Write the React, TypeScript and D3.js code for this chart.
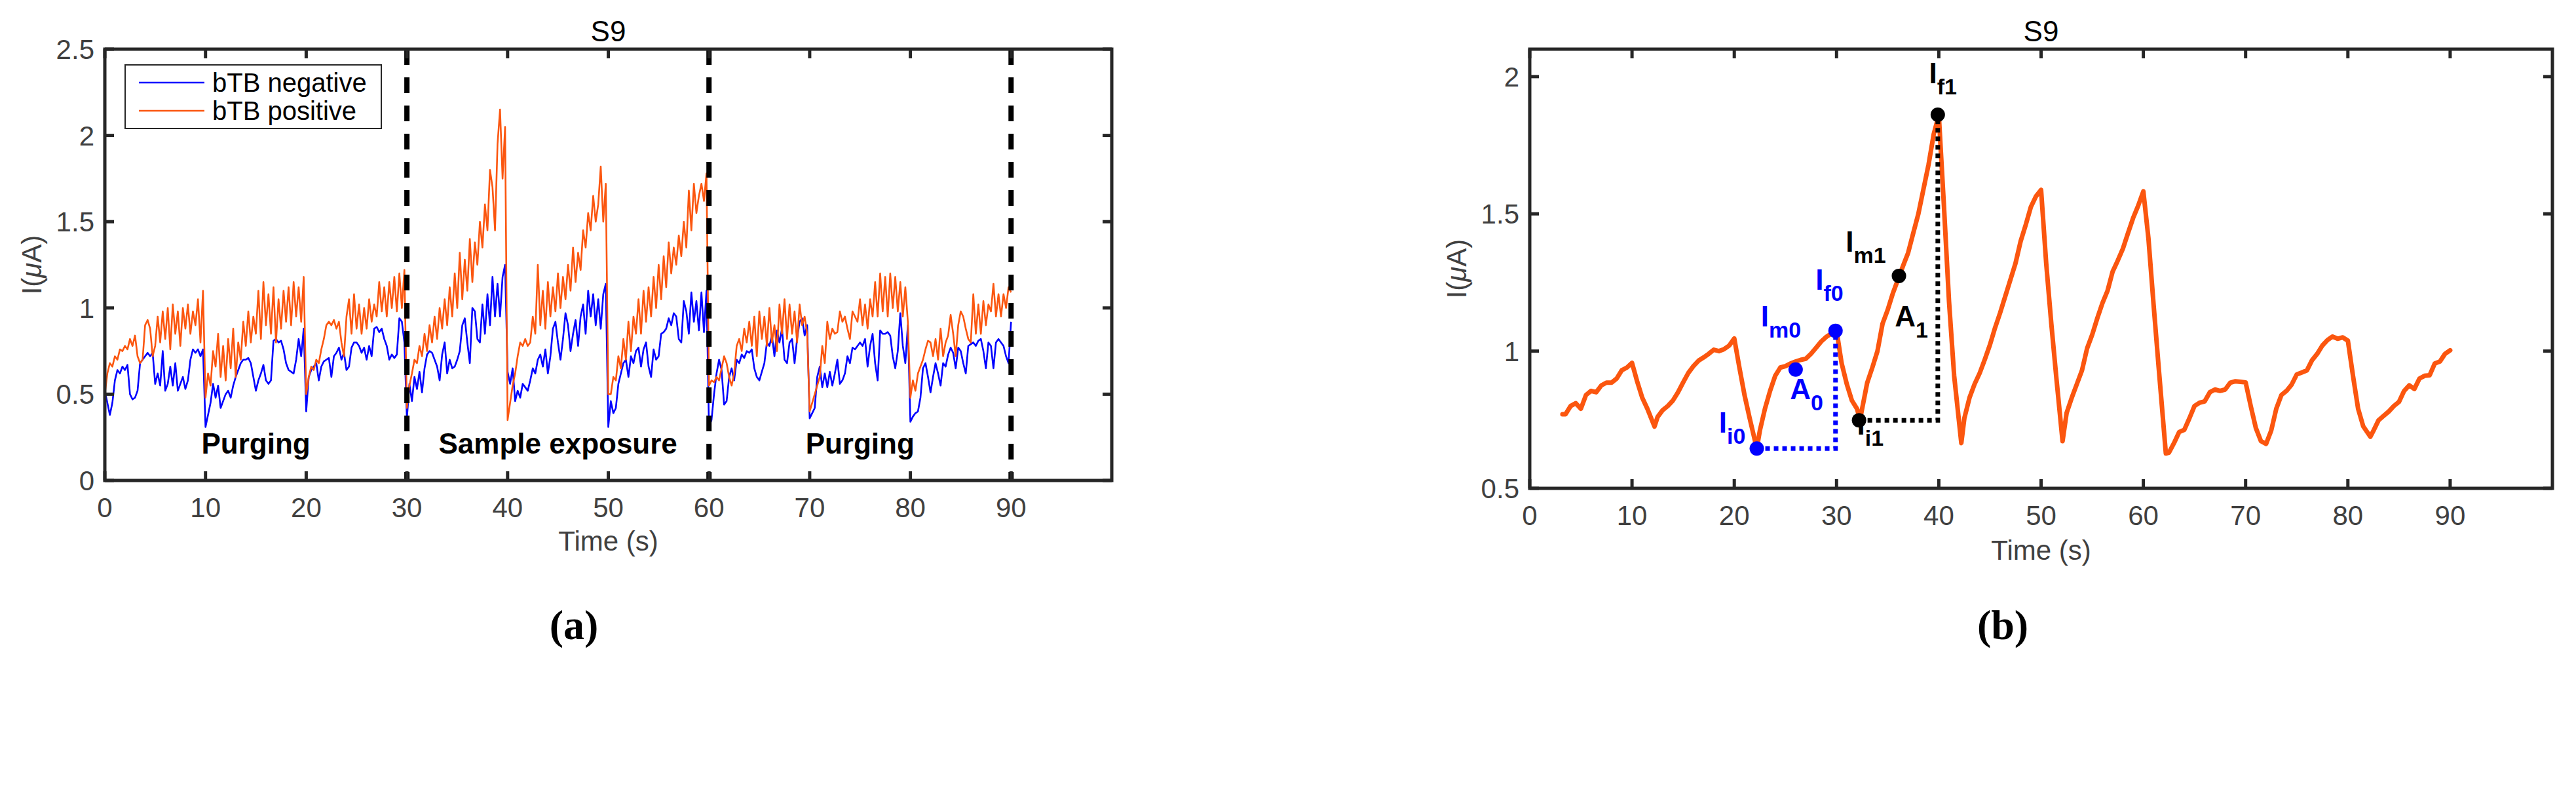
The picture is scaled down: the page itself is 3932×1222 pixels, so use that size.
import React from 'react';
import * as d3 from 'd3';

const WIDTH = 3932;
const HEIGHT = 1222;

// ---- (a) current vs time, sampled every 0.25 s from 0 to 90 s ----
const SAMPLE_STEP = 0.25;

const bTBNegative = [
  0.52, 0.45, 0.38, 0.45, 0.58, 0.64, 0.62, 0.66, 0.64, 0.67, 0.5, 0.47, 0.48, 0.52, 0.68, 0.7, 0.72, 0.74, 0.72, 0.74,
  0.56, 0.62, 0.55, 0.75, 0.52, 0.56, 0.66, 0.55, 0.68, 0.52, 0.56, 0.6, 0.53, 0.58, 0.7, 0.76, 0.74, 0.76, 0.72, 0.76,
  0.31, 0.38, 0.45, 0.56, 0.48, 0.55, 0.42, 0.46, 0.5, 0.52, 0.48, 0.55, 0.6, 0.64, 0.68, 0.7, 0.7, 0.71, 0.68, 0.6,
  0.52, 0.58, 0.62, 0.67, 0.58, 0.56, 0.58, 0.81, 0.82, 0.8, 0.81, 0.76, 0.68, 0.64, 0.63, 0.62, 0.7, 0.82, 0.72, 0.88,
  0.4, 0.6, 0.64, 0.66, 0.68, 0.58, 0.66, 0.69, 0.7, 0.71, 0.6, 0.72, 0.74, 0.77, 0.7, 0.74, 0.64, 0.66, 0.77, 0.8,
  0.8, 0.78, 0.74, 0.77, 0.7, 0.78, 0.72, 0.88, 0.89, 0.86, 0.88, 0.82, 0.78, 0.7, 0.73, 0.71, 0.73, 0.94, 0.92, 0.8,
  0.36, 0.56, 0.46, 0.6, 0.53, 0.63, 0.51, 0.65, 0.73, 0.75, 0.74, 0.7, 0.66, 0.58, 0.73, 0.8, 0.62, 0.7, 0.65, 0.66,
  0.7, 0.75, 0.9, 0.94, 0.8, 0.68, 1.0, 0.98, 0.82, 0.8, 1.02, 0.85, 1.08, 0.9, 1.18, 0.95, 1.14, 0.95, 1.18, 1.25,
  0.63, 0.56, 0.65, 0.46, 0.52, 0.48, 0.56, 0.54, 0.52, 0.58, 0.65, 0.62, 0.7, 0.73, 0.66, 0.76, 0.62, 0.72, 0.88, 0.92,
  0.8, 0.7, 0.82, 0.97, 0.9, 0.75, 0.85, 0.93, 0.78, 0.95, 1.02, 0.85, 1.1, 0.95, 1.08, 0.9, 1.05, 0.88, 1.08, 1.14,
  0.31, 0.46, 0.39, 0.42, 0.56, 0.62, 0.68, 0.7, 0.6, 0.72, 0.68, 0.75, 0.77, 0.66, 0.76, 0.8, 0.66, 0.6, 0.76, 0.7,
  0.72, 0.85, 0.86, 0.88, 0.94, 0.9, 0.97, 0.95, 0.82, 0.8, 1.04, 0.98, 0.85, 1.09, 0.92, 1.04, 0.87, 1.09, 0.86, 1.1,
  0.31, 0.35, 0.5, 0.62, 0.7, 0.64, 0.44, 0.46, 0.6, 0.65, 0.58, 0.7, 0.68, 0.73, 0.71, 0.75, 0.74, 0.76, 0.65, 0.6,
  0.58, 0.63, 0.68, 0.8, 0.78, 0.84, 0.72, 0.87, 0.8, 0.88, 0.7, 0.68, 0.8, 0.82, 0.68, 0.82, 0.92, 0.94, 0.84, 0.9,
  0.36, 0.39, 0.42, 0.6, 0.66, 0.54, 0.62, 0.54, 0.63, 0.55, 0.62, 0.7, 0.56, 0.58, 0.62, 0.72, 0.68, 0.77, 0.76, 0.78,
  0.8, 0.78, 0.82, 0.66, 0.78, 0.85, 0.68, 0.58, 0.87, 0.85, 0.85, 0.86, 0.84, 0.72, 0.65, 0.75, 0.97, 0.78, 0.68, 0.9,
  0.34, 0.37, 0.39, 0.4, 0.48, 0.65, 0.68, 0.6, 0.51, 0.6, 0.68, 0.62, 0.55, 0.68, 0.66, 0.73, 0.77, 0.74, 0.65, 0.77,
  0.75, 0.68, 0.62, 0.78, 0.79, 0.8, 0.78, 0.81, 0.82, 0.75, 0.65, 0.8, 0.78, 0.65, 0.8, 0.82, 0.8, 0.78, 0.72, 0.68,
  0.92,
];

const bTBPositive = [
  0.5, 0.62, 0.68, 0.66, 0.72, 0.7, 0.76, 0.75, 0.78, 0.76, 0.82, 0.78, 0.84, 0.72, 0.68, 0.7, 0.9, 0.93, 0.88, 0.72,
  0.78, 0.95, 0.8, 0.98, 0.82, 1.0, 0.76, 1.02, 0.85, 0.98, 0.78, 1.0, 0.88, 1.02, 0.85, 0.98, 0.9, 1.05, 0.8, 1.1,
  0.48, 0.62, 0.55, 0.75, 0.66, 0.85, 0.6, 0.78, 0.58, 0.82, 0.65, 0.88, 0.6, 0.8, 0.7, 0.92, 0.78, 0.98, 0.8, 0.95,
  0.85, 1.1, 0.82, 1.15, 0.9, 1.08, 0.85, 1.12, 0.8, 1.05, 0.88, 1.1, 0.92, 1.12, 0.9, 1.15, 0.95, 1.12, 0.92, 1.18,
  0.5, 0.6, 0.66, 0.64, 0.7, 0.68, 0.76, 0.82, 0.9, 0.92, 0.9, 0.93, 0.88, 0.92, 0.8, 0.72, 0.95, 1.05, 0.85, 1.08,
  0.88, 1.02, 0.85, 1.0, 0.88, 1.05, 0.92, 1.02, 0.95, 1.15, 0.98, 1.12, 0.95, 1.15, 1.0, 1.18, 0.98, 1.2, 1.0, 1.22,
  0.42, 0.55, 0.62, 0.7, 0.68, 0.78, 0.72, 0.85, 0.75, 0.9, 0.8, 0.95, 0.82, 1.0, 0.88, 1.05, 0.9, 1.12, 0.95, 1.2,
  1.0, 1.32, 1.05, 1.28, 1.1, 1.4, 1.15, 1.38, 1.25, 1.5, 1.35, 1.6, 1.45, 1.8, 1.7, 1.45, 1.95, 2.15, 1.75, 2.05,
  0.35, 0.45, 0.55, 0.62, 0.72, 0.8, 0.78, 0.82, 0.78, 0.8, 0.95, 0.85, 1.25, 0.9, 1.1, 0.88, 1.15, 0.95, 1.12, 0.98,
  1.2, 1.0, 1.18, 1.05, 1.25, 1.1, 1.35, 1.15, 1.32, 1.22, 1.45, 1.35, 1.55, 1.45, 1.65, 1.5, 1.6, 1.82, 1.5, 1.72,
  0.5, 0.5, 0.6, 0.58, 0.72, 0.65, 0.82, 0.7, 0.92, 0.75, 0.95, 0.85, 1.05, 0.85, 1.1, 0.92, 1.12, 0.95, 1.18, 1.0,
  1.25, 1.05, 1.3, 1.12, 1.38, 1.2, 1.35, 1.25, 1.42, 1.3, 1.5, 1.35, 1.68, 1.45, 1.72, 1.55, 1.65, 1.72, 1.62, 1.78,
  0.55, 0.58, 0.57, 0.6, 0.58, 0.65, 0.72, 0.68, 0.6, 0.55, 0.62, 0.78, 0.82, 0.75, 0.88, 0.8, 0.92, 0.78, 0.95, 0.72,
  0.98, 0.82, 0.95, 0.78, 1.0, 0.8, 0.9, 0.75, 1.02, 0.85, 1.05, 0.82, 1.02, 0.85, 0.98, 0.8, 1.02, 0.9, 0.95, 0.85,
  0.4, 0.45, 0.5, 0.55, 0.6, 0.78, 0.68, 0.92, 0.82, 0.88, 0.85, 0.86, 0.98, 0.92, 0.95, 0.88, 0.82, 0.98, 0.95, 0.92,
  1.05, 0.9, 1.02, 0.88, 1.05, 0.95, 1.15, 0.95, 1.2, 0.98, 1.18, 0.95, 1.2, 1.0, 1.18, 0.98, 1.15, 0.95, 1.12, 0.92,
  0.48, 0.58, 0.52, 0.62, 0.66, 0.7, 0.76, 0.81, 0.8, 0.72, 0.82, 0.7, 0.88, 0.72, 0.8, 0.84, 0.96, 0.85, 0.72, 0.9,
  0.98, 0.95, 0.88, 0.82, 0.8, 1.08, 0.85, 1.02, 0.85, 1.04, 0.9, 1.02, 0.98, 1.14, 0.95, 1.08, 0.95, 1.08, 1.0, 1.12,
  1.09,
];

const phaseEdges = [0, 30, 60, 90];
const phaseNames = ['Purging', 'Sample exposure', 'Purging'];

// ---- (b) S9 positive sample ----
const s9Time = [
  3.2, 3.5, 4, 4.5, 5, 5.5, 6, 6.5, 7, 7.5, 8, 8.5, 9, 9.5, 10, 10.5, 11, 11.5, 12.2, 12.5,
  13, 13.5, 14, 14.5, 15, 15.5, 16, 16.5, 17, 17.5, 18, 18.5, 19, 19.5, 20, 20.5, 21, 21.5, 22.2, 22.5,
  23, 23.5, 24, 24.5, 25, 25.5, 26, 26.5, 27, 27.5, 28, 28.5, 29, 29.5, 30, 30.5, 31, 31.5, 32, 32.3,
  32.5, 33, 33.5, 34, 34.5, 35, 35.5, 36, 36.5, 37, 37.5, 38, 38.5, 39, 39.5, 40, 40.5, 41, 41.5, 42.2,
  42.5, 43, 43.5, 44, 44.5, 45, 45.5, 46, 46.5, 47, 47.5, 48, 48.5, 49, 49.5, 50, 50.5, 51, 51.5, 52.1,
  52.5, 53, 53.5, 54, 54.5, 55, 55.5, 56, 56.5, 57, 57.5, 58, 58.5, 59, 59.5, 60, 60.5, 61, 61.5, 62.2,
  62.5, 63, 63.5, 64, 64.5, 65, 65.5, 66, 66.5, 67, 67.5, 68, 68.5, 69, 69.5, 70, 70.5, 71, 71.5, 72,
  72.5, 73, 73.5, 74, 74.5, 75, 75.5, 76, 76.5, 77, 77.5, 78, 78.5, 79, 79.5, 80, 80.5, 81, 81.5, 82.2,
  82.5, 83, 83.5, 84, 84.5, 85, 85.5, 86, 86.5, 87, 87.5, 88, 88.5, 89, 89.5, 90,
];
const s9Current = [
  0.77, 0.77, 0.8, 0.81, 0.79, 0.84, 0.855, 0.85, 0.875, 0.885, 0.885, 0.9, 0.93, 0.94, 0.957, 0.89, 0.83, 0.79, 0.725, 0.76,
  0.785, 0.8, 0.82, 0.85, 0.886, 0.92, 0.945, 0.965, 0.977, 0.99, 1.005, 1.0, 1.007, 1.02, 1.046, 0.94, 0.84, 0.756, 0.645, 0.71,
  0.79, 0.855, 0.91, 0.94, 0.945, 0.955, 0.962, 0.968, 0.972, 0.99, 1.012, 1.035, 1.052, 1.064, 1.075, 0.955, 0.88, 0.82, 0.79, 0.75,
  0.79, 0.885, 0.94, 1.0, 1.1, 1.15, 1.21, 1.26, 1.31, 1.358, 1.43, 1.5, 1.59, 1.68, 1.79, 1.86, 1.53, 1.18, 0.91, 0.665,
  0.756, 0.83, 0.88, 0.92, 0.97, 1.023, 1.085, 1.14, 1.2, 1.26, 1.32, 1.4, 1.46, 1.525, 1.564, 1.587, 1.32, 1.1, 0.9, 0.672,
  0.775, 0.83, 0.88, 0.93, 1.01, 1.06, 1.12, 1.175, 1.22, 1.29, 1.33, 1.373, 1.43, 1.485, 1.53, 1.582, 1.41, 1.17, 0.94, 0.627,
  0.63, 0.665, 0.705, 0.713, 0.755, 0.8, 0.812, 0.817, 0.85, 0.86, 0.855, 0.86, 0.885, 0.89, 0.888, 0.886, 0.8, 0.72, 0.672, 0.662,
  0.71, 0.79, 0.84, 0.855, 0.878, 0.915, 0.922, 0.93, 0.967, 0.99, 1.02, 1.04, 1.053, 1.045, 1.05, 1.038, 0.91, 0.79, 0.726, 0.688,
  0.71, 0.748, 0.764, 0.78, 0.8, 0.815, 0.855, 0.875, 0.862, 0.9, 0.91, 0.912, 0.955, 0.962, 0.99, 1.003,
];

// reference points on the S9 curve: [time, current]
const cycle0Points = [[22.2, 0.645], [26.0, 0.933], [29.9, 1.074]];
const cycle1Points = [[32.2, 0.748], [36.1, 1.274], [39.9, 1.861]];

const FONT = '"Liberation Sans", Arial, Helvetica, sans-serif';
const AXIS = '#262626';
const TICK_TEXT = '#404040';
const BLUE = '#0000FF';
const ORANGE = '#FB560F';
const TICK_LEN = 14;

// annotation text for (b): main letter, subscript, anchor in data units
const pointLabels = [
  { main: 'I', sub: 'i0', t: 18.5, v: 0.703, color: BLUE },
  { main: 'I', sub: 'm0', t: 22.6, v: 1.091, color: BLUE },
  { main: 'I', sub: 'f0', t: 27.95, v: 1.224, color: BLUE },
  { main: 'A', sub: '0', t: 25.45, v: 0.825, color: BLUE },
  { main: 'I', sub: 'm1', t: 30.9, v: 1.361, color: '#000' },
  { main: 'A', sub: '1', t: 35.7, v: 1.091, color: '#000' },
  { main: 'I', sub: 'i1', t: 32.0, v: 0.695, color: '#000' },
  { main: 'I', sub: 'f1', t: 39.05, v: 1.976, color: '#000' },
];

type Lin = d3.ScaleLinear<number, number>;

function Frame({ x, y, xTicks, yTicks }: { x: Lin; y: Lin; xTicks: number[]; yTicks: number[] }) {
  const [x0, x1] = x.range();
  const [y0, y1] = y.range(); // y0 bottom, y1 top
  return (
    <g stroke={AXIS} strokeWidth={5} fill="none">
      {xTicks.map(t => (
        <g key={'x' + t}>
          <line x1={x(t)} x2={x(t)} y1={y0} y2={y0 - TICK_LEN} />
          <line x1={x(t)} x2={x(t)} y1={y1} y2={y1 + TICK_LEN} />
        </g>
      ))}
      {yTicks.map(v => (
        <g key={'y' + v}>
          <line x1={x0} x2={x0 + TICK_LEN} y1={y(v)} y2={y(v)} />
          <line x1={x1} x2={x1 - TICK_LEN} y1={y(v)} y2={y(v)} />
        </g>
      ))}
      <rect x={x0} y={y1} width={x1 - x0} height={y0 - y1} strokeLinejoin="miter" />
    </g>
  );
}

function AxisText({ x, y, xTicks, yTicks, title, yLabelX, xLabelY }:
  { x: Lin; y: Lin; xTicks: number[]; yTicks: number[]; title: string; yLabelX: number; xLabelY: number }) {
  const [x0, x1] = x.range();
  const [y0, y1] = y.range();
  const cx = (x0 + x1) / 2;
  return (
    <g fontFamily={FONT} fontSize={42} fill={TICK_TEXT}>
      {xTicks.map(t => (
        <text key={'xl' + t} x={x(t)} y={y0 + 56} textAnchor="middle">{t}</text>
      ))}
      {yTicks.map(v => (
        <text key={'yl' + v} x={x0 - 16} y={y(v) + 15} textAnchor="end">{v}</text>
      ))}
      <text x={cx} y={xLabelY} textAnchor="middle">Time (s)</text>
      <text transform={`translate(${yLabelX},${(y0 + y1) / 2}) rotate(-90)`} textAnchor="middle">
        I(<tspan fontStyle="italic">μ</tspan>A)
      </text>
      <text x={cx} y={y1 - 12} textAnchor="middle" fill="#000" fontSize={44}>{title}</text>
    </g>
  );
}

export default function App() {
  // (a)
  const xA = d3.scaleLinear().domain([0, 100]).range([160, 1697]);
  const yA = d3.scaleLinear().domain([0, 2.5]).range([733, 75]);
  const lineA = d3.line<number>().x((_, i) => xA(i * SAMPLE_STEP)).y(d => yA(d));
  const xTicksA = d3.range(0, 91, 10);
  const yTicksA = d3.range(0, 2.51, 0.5).map(v => +v.toFixed(1));

  // (b)
  const xB = d3.scaleLinear().domain([0, 100]).range([2335, 3896]);
  const yB = d3.scaleLinear().domain([0.5, 2.1]).range([745, 75]);
  const lineB = d3.line<number>().x((_, i) => xB(s9Time[i])).y(d => yB(d));
  const yTicksB = [0.5, 1, 1.5, 2];

  const guide0 = d3.line()([
    [xB(cycle0Points[0][0]), yB(cycle0Points[0][1])],
    [xB(cycle0Points[2][0]), yB(cycle0Points[0][1])],
    [xB(cycle0Points[2][0]), yB(cycle0Points[2][1])],
  ]);
  const guide1 = d3.line()([
    [xB(cycle1Points[0][0]), yB(cycle1Points[0][1])],
    [xB(cycle1Points[2][0]), yB(cycle1Points[0][1])],
    [xB(cycle1Points[2][0]), yB(cycle1Points[2][1])],
  ]);

  return (
    <svg width={WIDTH} height={HEIGHT} viewBox={`0 0 ${WIDTH} ${HEIGHT}`}
      style={{ position: 'absolute', left: 0, top: 0, background: '#fff' }}>
      <rect width={WIDTH} height={HEIGHT} fill="#fff" />

      {/* ----- panel (a) ----- */}
      <path d={lineA(bTBNegative) ?? ''} fill="none" stroke={BLUE} strokeWidth={2.6} strokeLinejoin="round" />
      <path d={lineA(bTBPositive) ?? ''} fill="none" stroke={ORANGE} strokeWidth={2.6} strokeLinejoin="round" />
      {phaseEdges.slice(1).map(t => (
        <line key={'ph' + t} x1={xA(t)} x2={xA(t)} y1={yA(2.5)} y2={yA(0)}
          stroke="#000" strokeWidth={8} strokeDasharray="24 19" />
      ))}
      {phaseNames.map((name, i) => (
        <text key={'pn' + i} x={xA((phaseEdges[i] + phaseEdges[i + 1]) / 2)} y={yA(0.155)}
          textAnchor="middle" fontFamily={FONT} fontWeight="bold" fontSize={44} fill="#000">{name}</text>
      ))}
      <Frame x={xA} y={yA} xTicks={xTicksA} yTicks={yTicksA} />
      <AxisText x={xA} y={yA} xTicks={xTicksA} yTicks={yTicksA} title="S9" yLabelX={63} xLabelY={840} />

      {/* legend */}
      <g fontFamily={FONT} fontSize={40} fill="#000">
        <rect x={191} y={99} width={391} height={97} fill="#fff" stroke={AXIS} strokeWidth={2} />
        <line x1={212} x2={312} y1={126} y2={126} stroke={BLUE} strokeWidth={2.6} />
        <text x={324} y={140}>bTB negative</text>
        <line x1={212} x2={312} y1={169} y2={169} stroke={ORANGE} strokeWidth={2.6} />
        <text x={324} y={183}>bTB positive</text>
      </g>

      {/* ----- panel (b) ----- */}
      <path d={lineB(s9Current) ?? ''} fill="none" stroke={ORANGE} strokeWidth={7} strokeLinejoin="round" strokeLinecap="round" />
      <path d={guide0 ?? ''} fill="none" stroke={BLUE} strokeWidth={7} strokeDasharray="7 6" />
      <path d={guide1 ?? ''} fill="none" stroke="#000" strokeWidth={7} strokeDasharray="7 6" />
      {pointLabels.map((l, i) => (
        <text key={'pl' + i} x={xB(l.t)} y={yB(l.v)} fill={l.color} fontFamily={FONT}
          fontWeight="bold" fontSize={44}>
          {l.main}<tspan dy={17} fontSize={34}>{l.sub}</tspan>
        </text>
      ))}
      {cycle0Points.map(([t, v], i) => (
        <circle key={'c0' + i} cx={xB(t)} cy={yB(v)} r={11} fill={BLUE} />
      ))}
      {cycle1Points.map(([t, v], i) => (
        <circle key={'c1' + i} cx={xB(t)} cy={yB(v)} r={11} fill="#000" />
      ))}
      <Frame x={xB} y={yB} xTicks={xTicksA} yTicks={yTicksB} />
      <AxisText x={xB} y={yB} xTicks={xTicksA} yTicks={yTicksB} title="S9" yLabelX={2238} xLabelY={854} />

      {/* captions */}
      <g fontFamily='"Liberation Serif", "Times New Roman", serif' fontWeight="bold" fontSize={64} fill="#000" textAnchor="middle">
        <text x={876} y={975}>(a)</text>
        <text x={3057} y={975}>(b)</text>
      </g>
    </svg>
  );
}
